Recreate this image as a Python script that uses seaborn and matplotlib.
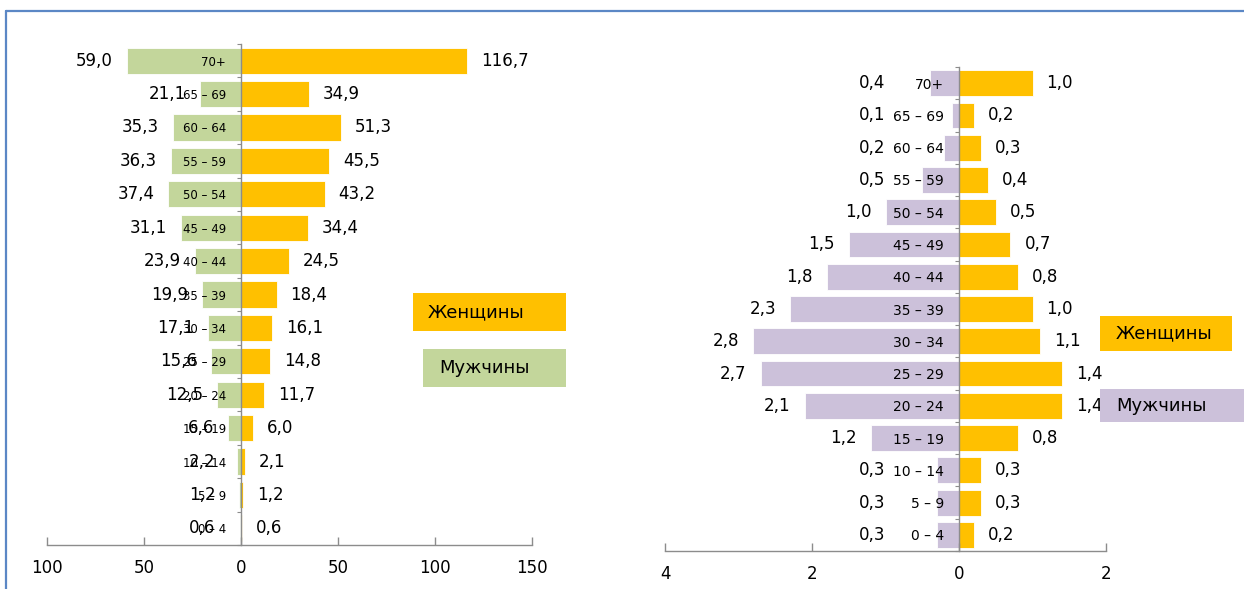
import matplotlib
matplotlib.use("Agg")
import numpy as np
import pandas as pd
import seaborn as sns
import matplotlib.pyplot as plt
from matplotlib.patches import Rectangle
from matplotlib.lines import Line2D

ages = ["70+", "65 – 69", "60 – 64", "55 – 59", "50 – 54", "45 – 49", "40 – 44",
        "35 – 39", "30 – 34", "25 – 29", "20 – 24", "15 – 19", "10 – 14", "5 – 9", "0 – 4"]
men_left = [59.0, 21.1, 35.3, 36.3, 37.4, 31.1, 23.9, 19.9, 17.1, 15.6, 12.5, 6.6, 2.2, 1.2, 0.6]
women_left = [116.7, 34.9, 51.3, 45.5, 43.2, 34.4, 24.5, 18.4, 16.1, 14.8, 11.7, 6.0, 2.1, 1.2, 0.6]
men_right = [0.4, 0.1, 0.2, 0.5, 1.0, 1.5, 1.8, 2.3, 2.8, 2.7, 2.1, 1.2, 0.3, 0.3, 0.3]
women_right = [1.0, 0.2, 0.3, 0.4, 0.5, 0.7, 0.8, 1.0, 1.1, 1.4, 1.4, 0.8, 0.3, 0.3, 0.2]
xticks_left = [-100, -50, 0, 50, 100, 150]
xticks_right = [-4, -2, 0, 2]
legend_labels = ["Женщины", "Мужчины"]

ORANGE = "#FFC000"
GREEN = "#C3D69B"
LILAC = "#CCC1DA"
GRAY = "#8C8C8C"

sns.set_theme(style="white")
plt.rcParams["font.family"] = ["DejaVu Sans"]

fig = plt.figure(figsize=(12.44, 5.89), dpi=100)
ax1 = fig.add_axes([0.0378, 0.0747, 0.3899, 0.8506])
ax2 = fig.add_axes([0.5346, 0.0645, 0.3545, 0.8217])


def fmt(v):
    return f"{v:.1f}".replace(".", ",")


def pyramid(ax, men, women, men_color, xticks, bar_w, age_size, men_floor):
    df = pd.DataFrame({"age": ages, "men": [-m for m in men], "women": women})
    sns.barplot(data=df, x="women", y="age", color=ORANGE, saturation=1, width=bar_w,
                orient="h", errorbar=None, edgecolor="white", linewidth=0.6, ax=ax)
    sns.barplot(data=df, x="men", y="age", color=men_color, saturation=1, width=bar_w,
                orient="h", errorbar=None, edgecolor="white", linewidth=0.6, ax=ax)

    # value labels, comma decimals like the original
    for i, (m, w) in enumerate(zip(men, women)):
        ax.annotate(fmt(w), (w, i), xytext=(10, 0), textcoords="offset points",
                    ha="left", va="center", fontsize=12, color="black")
        ax.annotate(fmt(m), (min(-m, men_floor), i), xytext=(-10, 0), textcoords="offset points",
                    ha="right", va="center", fontsize=12, color="black")

    ax.set_axisbelow(False)
    ax.set(xlabel="", ylabel="")
    ax.set_ylim(14.5, -0.5)
    ax.set_xlim(xticks[0], xticks[-1])
    ax.set_xticks(xticks)
    ax.set_xticklabels([str(abs(t)) for t in xticks])
    ax.set_yticks(np.arange(-0.5, 15, 1), minor=True)

    for s in ["top", "right"]:
        ax.spines[s].set_visible(False)
    ax.spines["left"].set_position(("data", 0))
    for s in ["left", "bottom"]:
        ax.spines[s].set_color(GRAY)
        ax.spines[s].set_linewidth(1.0)

    ax.tick_params(axis="y", which="major", left=True, length=0, pad=11,
                   labelsize=age_size, labelcolor="black")
    ax.tick_params(axis="y", which="minor", left=True, length=3, width=0.8,
                   direction="out", color=GRAY)
    ax.tick_params(axis="x", which="major", bottom=True, length=6, width=1,
                   direction="in", color=GRAY, labelsize=12, pad=10, labelcolor="black")


pyramid(ax1, men_left, women_left, GREEN, xticks_left, 0.78, 8.5, -6)
pyramid(ax2, men_right, women_right, LILAC, xticks_right, 0.8, 10, -0.82)


def add_box(x0, y0, w, h, color, text, tx):
    fig.add_artist(Rectangle((x0, y0), w, h, transform=fig.transFigure,
                             facecolor=color, edgecolor="none", zorder=5))
    fig.text(tx, y0 + h / 2, text, ha="left", va="center", fontsize=13,
             color="black", zorder=6)


add_box(0.332, 0.438, 0.123, 0.0645, ORANGE, legend_labels[0], 0.344)
add_box(0.340, 0.343, 0.115, 0.0645, GREEN, legend_labels[1], 0.353)
add_box(0.884, 0.404, 0.106, 0.0594, ORANGE, legend_labels[0], 0.897)
add_box(0.884, 0.2835, 0.116, 0.056, LILAC, legend_labels[1], 0.897)

# blue frame of the original slide
fig.add_artist(Line2D([0.0048, 1.0], [0.9805, 0.9805], transform=fig.transFigure,
                      color="#5B87C5", lw=1.6))
fig.add_artist(Line2D([0.0048, 0.0048], [0.0, 0.9805], transform=fig.transFigure,
                      color="#5B87C5", lw=1.6))

fig.savefig("out.png", dpi=100, facecolor="white")
